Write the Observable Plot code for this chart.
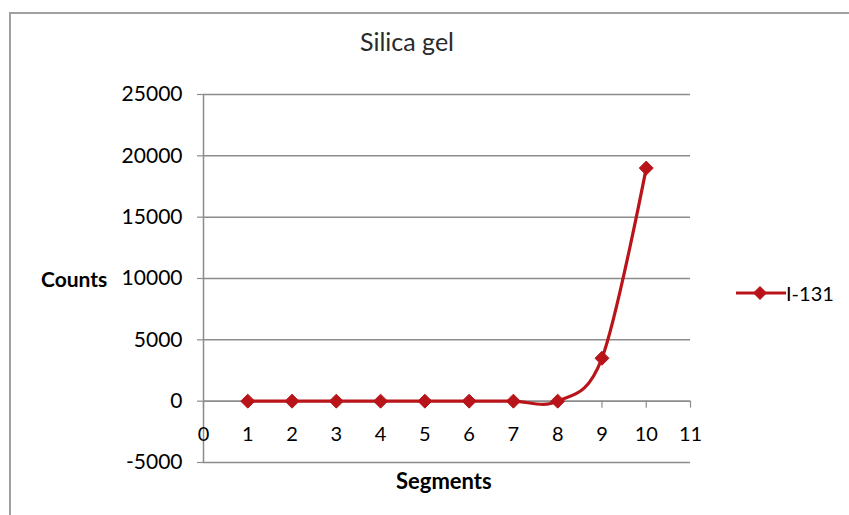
<!DOCTYPE html>
<html>
<head>
<meta charset="utf-8">
<script src="https://cdn.jsdelivr.net/npm/d3@7"></script>
<script src="https://cdn.jsdelivr.net/npm/@observablehq/plot@0.6"></script>
<style>
  html, body { margin: 0; padding: 0; background: #fff; }
  #wrap { position: relative; width: 849px; height: 515px; overflow: hidden; font-family: Lato, "Open Sans", sans-serif; }
  #frame { position: absolute; left: 9px; top: 12px; width: 900px; height: 600px; border-left: 2px solid #a0a0a0; border-top: 2px solid #a0a0a0; }
  .lbl { position: absolute; color: #000; white-space: nowrap; line-height: 1; }
  #title { left: 360px; top: 29px; font-size: 25px; color: #2a2a2a; }
  #ylab { left: 41px; top: 268px; font-size: 21px; font-weight: bold; }
  #xlab { left: 396px; top: 470px; font-size: 22px; font-weight: bold; }
  #legend { left: 734px; top: 283px; font-size: 20px; display: flex; align-items: center; }
  #chart { position: absolute; left: 0; top: 0; }
</style>
</head>
<body>
<div id="wrap">
  <div id="frame"></div>
  <div id="chart"></div>
  <div class="lbl" id="title">Silica gel</div>
  <div class="lbl" id="ylab">Counts</div>
  <div class="lbl" id="xlab">Segments</div>
  <div class="lbl" id="legend"></div>
</div>
<script>
const segments = [1, 2, 3, 4, 5, 6, 7, 8, 9, 10];
const counts = [0, 0, 0, 0, 0, 0, 0, 0, 3500, 19000];
const seriesName = "I-131";
const xTicks = [0, 1, 2, 3, 4, 5, 6, 7, 8, 9, 10, 11];
const yTicks = [-5000, 0, 5000, 10000, 15000, 20000, 25000];

const color = "#b8141a";
const gridColor = "#8c8c8c";
const data = segments.map((s, i) => ({segment: s, count: counts[i]}));

const plot = Plot.plot({
  width: 849,
  height: 515,
  marginLeft: 203,
  marginRight: 159,
  marginTop: 94,
  marginBottom: 53,
  style: {background: "transparent", fontFamily: "Lato, 'Open Sans', sans-serif"},
  x: {type: "linear", domain: [0, 11], axis: null},
  y: {type: "linear", domain: [-5000, 25000], axis: null},
  marks: [
    Plot.gridY(yTicks, {stroke: gridColor, strokeOpacity: 1, strokeWidth: 1.5}),
    Plot.ruleX([0], {stroke: gridColor, strokeWidth: 1.5}),
    Plot.ruleY([0], {stroke: gridColor, strokeWidth: 1.2}),
    Plot.ruleY(yTicks, {y: d => d, x1: 0, x2: 0, insetLeft: -6, stroke: gridColor, strokeWidth: 1.2}),
    Plot.text(yTicks, {y: d => d, x: 0, dx: -21, text: d => String(d), textAnchor: "end", fontSize: 21, fill: "#000"}),
    Plot.ruleX(xTicks, {x: d => d, y1: 0, y2: 0, insetBottom: -7, stroke: gridColor, strokeWidth: 1.2}),
    Plot.text(xTicks, {x: d => d, y: 0, dy: 33, text: d => String(d), fontSize: 20, fill: "#000"}),
    Plot.line(data, {x: "segment", y: "count", curve: "cardinal", stroke: color, strokeWidth: 3.2}),
    Plot.dot(data, {x: "segment", y: "count", symbol: "diamond2", r: 6.3, fill: color, stroke: color, strokeWidth: 1})
  ]
});
document.getElementById("chart").appendChild(plot);

const legend = document.getElementById("legend");
legend.innerHTML = `<svg width="52" height="20" style="margin-right:0px"><line x1="2" y1="10" x2="52" y2="10" stroke="${color}" stroke-width="3.2"/><path d="M26 3 L33 10 L26 17 L19 10 Z" fill="${color}"/></svg><span>${seriesName}</span>`;
</script>
</body>
</html>
